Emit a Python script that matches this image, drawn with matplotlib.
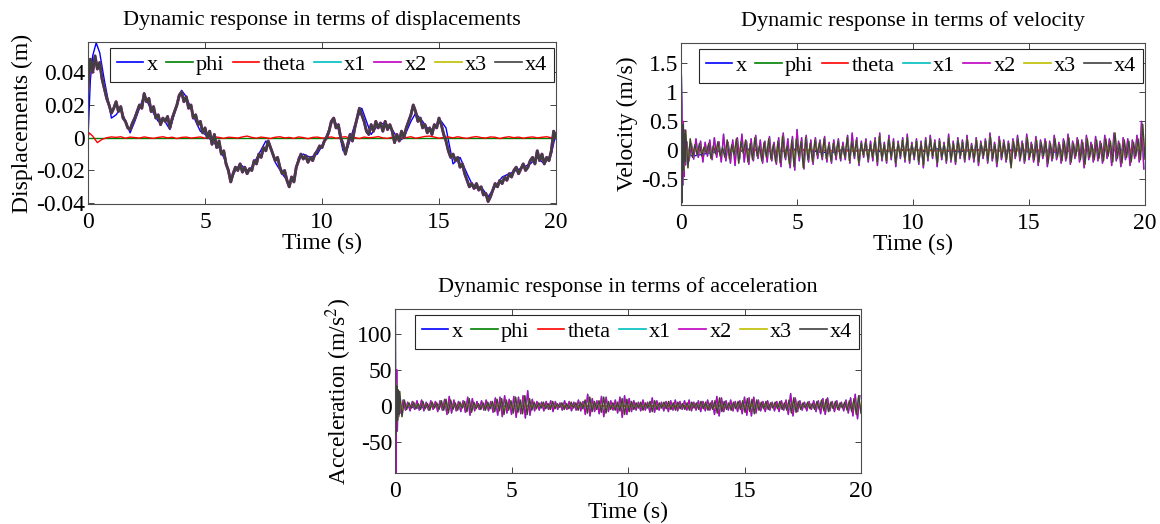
import numpy as np
import matplotlib
matplotlib.use('Agg')
import matplotlib.pyplot as plt

plt.rcParams['font.family'] = ['Liberation Serif', 'DejaVu Serif']
plt.rcParams['mathtext.fontset'] = 'stix'

labels = ['x', 'phi', 'theta', 'x1', 'x2', 'x3', 'x4']
colors = ['#0000ff', '#008000', '#ff0000', '#00bfbf', '#bf00bf', '#bfbf00', '#404040']
xticks = [0, 5, 10, 15, 20]

# ---------------- displacement (m) ----------------
disp_x_t = [0, 0.1, 0.2, 0.35, 0.5, 0.7, 0.9, 1.0, 1.2, 1.4,
            1.6, 1.8, 2.0, 2.2, 2.4, 2.6, 2.8, 3.0, 3.2, 3.5,
            3.7, 4.0, 4.2, 4.4, 4.6, 4.8, 5.0, 5.3, 5.6, 5.9,
            6.1, 6.3, 6.5, 6.8, 7.0, 7.3, 7.6, 7.8, 8.0, 8.3,
            8.6, 8.8, 9.0, 9.2, 9.5, 9.8, 10.0, 10.3, 10.5, 10.7,
            10.9, 11.1, 11.4, 11.7, 11.9, 12.1, 12.4, 12.7, 13.0, 13.3,
            13.5, 13.8, 14.0, 14.3, 14.6, 14.9, 15.1, 15.3, 15.6, 15.9,
            16.2, 16.5, 16.8, 17.1, 17.4, 17.7, 18.0, 18.3, 18.6, 18.9,
            19.2, 19.5, 19.8, 20.0]
disp_x = [0.0, 0.035, 0.050, 0.058, 0.052, 0.035, 0.020, 0.012, 0.014, 0.018,
          0.010, 0.003, 0.010, 0.018, 0.026, 0.020, 0.015, 0.010, 0.012, 0.005,
          0.015, 0.029, 0.025, 0.018, 0.010, 0.004, 0.002, -0.002, -0.006, -0.015,
          -0.026, -0.020, -0.016, -0.020, -0.018, -0.010, -0.002, -0.006, -0.015, -0.022,
          -0.028, -0.025, -0.012, -0.010, -0.012, -0.010, -0.005, 0.005, 0.012, 0.005,
          -0.008, -0.006, 0.008, 0.018, 0.010, 0.002, 0.008, 0.009, 0.005, -0.002,
          0.000, 0.010, 0.015, 0.010, 0.004, 0.008, 0.010, 0.006, -0.016, -0.012,
          -0.022, -0.031, -0.030, -0.036, -0.030, -0.024, -0.022, -0.020, -0.018, -0.016,
          -0.012, -0.016, -0.010, 0.003]

# x1..x4 sit on top of each other (0 .. 20 s, 0.1 s apart)
disp_x4 = [0.030, 0.048, 0.040, 0.050, 0.042, 0.046, 0.036, 0.030, 0.024, 0.020,
           0.015, 0.018, 0.022, 0.016, 0.019, 0.012, 0.010, 0.006, 0.005, 0.009,
           0.012, 0.016, 0.020, 0.018, 0.027, 0.022, 0.024, 0.016, 0.019, 0.012,
           0.014, 0.008, 0.012, 0.010, 0.013, 0.006, 0.012, 0.016, 0.020, 0.026,
           0.028, 0.022, 0.025, 0.018, 0.020, 0.012, 0.014, 0.008, 0.010, 0.003,
           0.006, 0.000, 0.004, -0.004, 0.002, -0.006, -0.002, -0.010, -0.008, -0.016,
           -0.020, -0.027, -0.022, -0.018, -0.020, -0.016, -0.021, -0.018, -0.022, -0.019,
           -0.020, -0.014, -0.016, -0.010, -0.012, -0.006, -0.008, -0.002, -0.006, -0.010,
           -0.014, -0.012, -0.018, -0.022, -0.020, -0.026, -0.030, -0.024, -0.027, -0.018,
           -0.014, -0.010, -0.013, -0.011, -0.015, -0.012, -0.014, -0.010, -0.008, -0.005,
           -0.006, -0.002, 0.000, 0.004, 0.010, 0.012, 0.006, 0.008, 0.000, -0.004,
           -0.010, -0.004, 0.002, -0.002, 0.006, 0.012, 0.018, 0.014, 0.010, 0.004,
           0.002, 0.008, 0.004, 0.010, 0.006, 0.009, 0.004, 0.010, 0.005, 0.008,
           0.004, -0.003, 0.002, -0.002, 0.004, 0.000, 0.006, 0.010, 0.014, 0.020,
           0.016, 0.010, 0.012, 0.006, 0.008, 0.003, 0.006, 0.002, 0.008, 0.006,
           0.012, 0.008, 0.002, -0.002, -0.008, -0.012, -0.010, -0.014, -0.012, -0.018,
           -0.016, -0.022, -0.026, -0.030, -0.028, -0.031, -0.028, -0.032, -0.030, -0.035,
           -0.034, -0.039, -0.036, -0.032, -0.028, -0.030, -0.026, -0.028, -0.024, -0.026,
           -0.022, -0.024, -0.020, -0.018, -0.022, -0.019, -0.016, -0.020, -0.018, -0.014,
           -0.012, -0.016, -0.008, -0.014, -0.010, -0.016, -0.012, -0.014, -0.008, 0.004,
           0.000]

disp_theta_head_t = [0, 0.05, 0.2, 0.4, 0.6]
disp_theta_head = [0.0, 0.003, 0.001, -0.003, -0.001]
disp_theta = [0.0, 0.0005, 0.0002, 0.0006, -0.0003, 0.0004, 0.0001, -0.0002, 0.0005, 0.0,
              -0.0004, 0.0002, 0.0006, -0.0001, 0.0003, -0.0005, 0.0002, 0.0004, -0.0002, 0.0001,
              0.0005, -0.0003, 0.0, 0.0006, 0.0002, -0.0004, 0.0003, 0.0001, -0.0002, 0.0005,
              0.0010, 0.0002, -0.0003, 0.0004, 0.0, -0.0005, 0.0003, 0.0006, -0.0001, 0.0002,
              -0.0004, 0.0005, 0.0001, -0.0006, 0.0002, 0.0004, -0.0002, 0.0, 0.0005, -0.0003,
              0.0003, 0.0006, -0.0002, 0.0001, -0.0005, 0.0004, 0.0, 0.0002, 0.0007, -0.0001,
              -0.0004, 0.0003, 0.0005, -0.0002, 0.0001, 0.0006, -0.0003, 0.0002, 0.0008, 0.0010,
              0.0004, -0.0003, 0.0002, 0.0005, -0.0001, 0.0006, 0.0, -0.0004, 0.0003, 0.0007,
              0.0001, -0.0002, 0.0005, 0.0003, -0.0005, 0.0002, 0.0006, 0.0, 0.0004, -0.0003,
              0.0002, 0.0005, -0.0001, 0.0003, 0.0006, 0.0, 0.0004]
disp_phi = [0.0, 0.0]

# ---------------- velocity (m/s) ----------------
vel_x = [0.0, -0.10, -0.06, -0.03, 0.02, -0.02, 0.03, 0.0, -0.02, -0.01,
         0.03, 0.0, -0.03, -0.04, 0.02, -0.01, 0.01, -0.02, -0.01, 0.01,
         0.02, -0.02, 0.03, -0.01, -0.02, 0.0, 0.02, 0.0, -0.01, 0.03,
         -0.03, -0.02, -0.03, -0.02, 0.01, -0.01, 0.01, 0.0, 0.01, 0.0, 0.04]
vel_theta = [0.0, 0.01, -0.01, 0.005, -0.005, 0.01, 0.0, -0.01, 0.005, 0.0,
             0.01, -0.005, 0.0, 0.01, -0.01, 0.005, 0.0, -0.005, 0.01, 0.0, 0.005]

vel_x4_head_t = [0, 0.02, 0.05, 0.08, 0.11, 0.14, 0.17]
vel_x4_head = [0.0, 0.5, -0.9, 0.45, -0.35, 0.3, -0.2]
vel_x4 = [0.35, -0.30, 0.20, -0.12, 0.10, -0.08, 0.12, -0.10, 0.06, -0.05, 0.12, -0.14, 0.08, -0.06, 0.15, -0.10, 0.05, -0.12, 0.18, -0.15,
          0.10, -0.08, 0.20, -0.22, 0.15, -0.05, 0.18, -0.20, 0.12, -0.16, 0.22, -0.10, 0.08, -0.18, 0.14, -0.12, 0.20, -0.15, 0.10, -0.20,
          0.16, -0.22, 0.25, -0.12, 0.08, -0.24, 0.18, -0.28, 0.20, -0.10, 0.15, -0.30, 0.22, -0.16, 0.12, -0.20, 0.18, -0.08, 0.14, -0.12,
          0.20, -0.15, 0.10, -0.18, 0.12, -0.10, 0.16, -0.14, 0.08, -0.12, 0.22, -0.18, 0.15, -0.10, 0.18, -0.22, 0.12, -0.08, 0.15, -0.16,
          0.10, -0.12, 0.18, -0.20, 0.25, -0.14, 0.10, -0.18, 0.20, -0.12, 0.15, -0.22, 0.12, -0.10, 0.18, -0.15, 0.22, -0.18, 0.10, -0.12,
          0.16, -0.20, 0.12, -0.25, 0.18, -0.14, 0.20, -0.10, 0.14, -0.22, 0.16, -0.12, 0.10, -0.18, 0.22, -0.16, 0.12, -0.20, 0.18, -0.10,
          0.14, -0.16, 0.20, -0.12, 0.08, -0.15, 0.18, -0.20, 0.12, -0.10, 0.16, -0.18, 0.24, -0.14, 0.10, -0.22, 0.18, -0.12, 0.14, -0.16,
          0.12, -0.30, 0.16, -0.10, 0.20, -0.14, 0.12, -0.18, 0.22, -0.12, 0.10, -0.16, 0.18, -0.20, 0.14, -0.10, 0.16, -0.22, 0.12, -0.14,
          0.20, -0.12, 0.10, -0.18, 0.16, -0.14, 0.22, -0.20, 0.12, -0.10, 0.18, -0.16, 0.14, -0.24, 0.20, -0.12, 0.10, -0.16, 0.18, -0.14,
          0.12, -0.18, 0.20, -0.10, 0.16, -0.20, 0.30, -0.14, 0.12, -0.22, 0.18, -0.12, 0.16, -0.20, 0.14, -0.10, 0.20, -0.16, 0.45, -0.15]

vel_x2_head_t = [0, 0.015, 0.04, 0.07, 0.1, 0.13, 0.16, 0.2]
vel_x2_head = [0.0, 1.3, 0.8, -0.6, 0.5, -0.45, 0.35, -0.25]
vel_x2 = [0.15, -0.18, 0.12, -0.15, 0.20, -0.12, 0.16, -0.20, 0.14, -0.10, 0.18, -0.16, 0.22, -0.12, 0.15, -0.20, 0.28, -0.18, 0.14, -0.22,
          0.18, -0.26, 0.22, -0.15, 0.28, -0.20, 0.16, -0.24, 0.20, -0.18, 0.26, -0.14, 0.18, -0.22, 0.16, -0.20, 0.24, -0.18, 0.14, -0.24,
          0.22, -0.28, 0.30, -0.16, 0.20, -0.30, 0.24, -0.34, 0.36, -0.18, 0.22, -0.32, 0.26, -0.20, 0.18, -0.24, 0.22, -0.14, 0.18, -0.16,
          0.24, -0.20, 0.14, -0.22, 0.18, -0.16, 0.20, -0.18, 0.14, -0.16, 0.26, -0.22, 0.30, -0.14, 0.22, -0.26, 0.16, -0.12, 0.20, -0.20,
          0.16, -0.18, 0.22, -0.26, 0.30, -0.18, 0.14, -0.22, 0.26, -0.16, 0.20, -0.28, 0.16, -0.14, 0.22, -0.20, 0.28, -0.22, 0.14, -0.16,
          0.20, -0.24, 0.16, -0.30, 0.22, -0.18, 0.26, -0.14, 0.18, -0.28, 0.20, -0.16, 0.14, -0.22, 0.28, -0.20, 0.16, -0.24, 0.22, -0.14,
          0.18, -0.20, 0.26, -0.16, 0.12, -0.20, 0.22, -0.26, 0.16, -0.14, 0.20, -0.22, 0.30, -0.18, 0.14, -0.28, 0.24, -0.16, 0.18, -0.20,
          0.16, -0.24, 0.20, -0.14, 0.26, -0.18, 0.16, -0.22, 0.28, -0.16, 0.14, -0.20, 0.24, -0.26, 0.18, -0.14, 0.20, -0.28, 0.16, -0.18,
          0.26, -0.16, 0.14, -0.22, 0.20, -0.18, 0.28, -0.24, 0.16, -0.14, 0.22, -0.20, 0.18, -0.30, 0.26, -0.16, 0.14, -0.20, 0.24, -0.18,
          0.16, -0.22, 0.26, -0.14, 0.20, -0.26, 0.30, -0.18, 0.16, -0.28, 0.22, -0.16, 0.20, -0.26, 0.18, -0.14, 0.26, -0.20, 0.50, -0.32]

# ---------------- acceleration (m/s^2) ----------------
acc_x = [0.0, -3.0, 2.0, -1.0, 1.0, -0.5, 1.0, -1.0, 0.5, 0.0,
         1.0, -1.0, 0.5, -0.5, 1.0, 0.0, -1.0, 0.5, 1.0, -0.5, 0.0]
acc_x4_head_t = [0, 0.02, 0.05, 0.08, 0.11, 0.14, 0.17]
acc_x4_head = [0, 35, -38, 28, -20, 22, -12]
acc_x4 = [20, -15, 8, -5, 4, -3, 5, -4, 3, -5, 6, -4, 3, -6, 5, -3, 4, -5, 7, -6,
          9, -10, 8, -5, 4, -6, 5, -3, 6, -8, 10, -9, 5, -4, 3, -5, 4, -6, 5, -4,
          6, -8, 9, -7, 10, -12, 8, -6, 7, -10, 12, -9, 8, -11, 14, -12, 10, -6, 5, -4,
          4, -3, 5, -4, 3, -5, 6, -4, 3, -2, 4, -5, 3, -4, 5, -3, 4, -6, 5, -4,
          8, -10, 12, -8, 6, -5, 7, -9, 12, -10, 6, -5, 4, -6, 5, -7, 10, -12, 9, -8,
          6, -5, 4, -3, 5, -6, 4, -3, 6, -8, 7, -5, 4, -3, 5, -4, 6, -5, 4, -6,
          5, -4, 3, -5, 4, -6, 5, -3, 4, -5, 6, -4, 5, -6, 4, -5, 7, -10, 11, -8,
          6, -5, 4, -6, 5, -4, 6, -5, 7, -9, 10, -8, 9, -11, 8, -6, 5, -4, 6, -5,
          4, -3, 5, -4, 6, -5, 4, -6, 8, -10, 11, -9, 6, -5, 4, -3, 5, -4, 3, -5,
          6, -5, 8, -7, 9, -8, 5, -4, 6, -5, 4, -3, 5, -6, 7, -8, 10, -12, 14, -10]
acc_x2_head_t = [0, 0.015, 0.04, 0.07, 0.1, 0.13, 0.16, 0.2]
acc_x2_head = [0, 135, -95, 50, -35, 20, -15, 12]
acc_x2 = [-10, 8, -6, 5, -7, 6, -5, 7, -6, 8, -7, 5, -6, 7, -5, 6, -8, 7, -6, 9,
          -12, 13, -10, 8, -7, 6, -8, 7, -9, 12, -13, 10, -7, 6, -5, 7, -6, 8, -7, 6,
          -9, 11, -13, 12, -15, 14, -10, 9, -12, 13, -16, 12, -11, 14, -17, 21, -13, 9, -7, 6,
          -6, 5, -7, 6, -5, 7, -8, 6, -5, 4, -6, 7, -5, 6, -7, 5, -6, 8, -7, 6,
          -12, 16, -14, 10, -8, 7, -11, 13, -15, 12, -8, 7, -6, 8, -10, 12, -16, 14, -12, 10,
          -8, 7, -6, 5, -7, 8, -6, 5, -9, 11, -9, 7, -6, 5, -7, 6, -8, 7, -6, 8,
          -7, 6, -5, 7, -6, 8, -7, 5, -6, 7, -8, 6, -7, 8, -6, 7, -12, 13, -14, 11,
          -8, 7, -6, 8, -7, 6, -8, 7, -11, 12, -13, 11, -14, 12, -10, 8, -7, 6, -8, 7,
          -6, 5, -7, 6, -8, 7, -6, 8, -12, 17, -14, 11, -8, 7, -6, 5, -7, 6, -5, 7,
          -8, 7, -11, 10, -12, 11, -7, 6, -8, 7, -6, 5, -7, 8, -10, 11, -14, 16, -18, 14]
acc_theta = [0.0, 0.3, -0.3, 0.2, -0.2, 0.3, 0.0, -0.3, 0.2, 0.0, 0.3]


def join(head_t, head_v, body, t0, t1):
    t = np.concatenate([head_t, np.linspace(t0, t1, len(body))])
    return t, np.concatenate([head_v, body])


def span(vals):
    return np.linspace(0, 20, len(vals))


def draw(ax, series, widths):
    for (t, v), c, lab, w in zip(series, colors, labels, widths):
        ax.plot(t, v, color=c, lw=w, label=lab)


def style(ax, title, ylabel, ylim, yticks, yticklabels):
    ax.set_xlim(0, 20)
    ax.set_ylim(*ylim)
    ax.set_xticks(xticks)
    ax.set_yticks(yticks)
    ax.set_yticklabels(yticklabels)
    ax.tick_params(direction='in', top=True, right=True, length=4, width=0.6,
                   labelsize=17, color='#262626')
    ax.tick_params(axis='x', pad=6)
    ax.tick_params(axis='y', pad=2)
    for s in ax.spines.values():
        s.set_color('#4d4d4d')
        s.set_linewidth(0.8)
    ax.set_title(title, fontsize=16, pad=12.5)
    ax.set_xlabel('Time (s)', fontsize=17, labelpad=0)
    ax.set_ylabel(ylabel, fontsize=17, labelpad=2)
    leg = ax.legend(loc='upper right', bbox_to_anchor=(0.996, 0.965), ncol=7,
                    fontsize=16, handlelength=1.2, handletextpad=0.15,
                    columnspacing=0.37, borderpad=0.3, borderaxespad=0,
                    fancybox=False, framealpha=1)
    leg.get_frame().set_edgecolor('#262626')
    leg.get_frame().set_linewidth(0.8)
    for ln in leg.get_lines():
        ln.set_linewidth(1.2)


fig = plt.figure(figsize=(11.6, 5.24), dpi=100)
ax1 = fig.add_axes([88 / 1160, 1 - 204 / 524, 468 / 1160, 162 / 524])
ax2 = fig.add_axes([681 / 1160, 1 - 205 / 524, 464 / 1160, 162 / 524])
ax3 = fig.add_axes([395 / 1160, 1 - 473 / 524, 466 / 1160, 164 / 524])

# displacement
th_t, th_v = join(disp_theta_head_t, disp_theta_head, disp_theta, 0.8, 20)
d_series = [(disp_x_t, disp_x), (span(disp_phi), disp_phi), (th_t, th_v),
            (span(disp_x4), disp_x4), (span(disp_x4), disp_x4),
            (span(disp_x4), disp_x4), (span(disp_x4), disp_x4)]
draw(ax1, d_series, [1.0, 1.0, 1.0, 1.0, 2.1, 1.0, 1.9])
style(ax1, 'Dynamic response in terms of displacements', 'Displacements (m)',
      (-0.0405, 0.0585), [-0.04, -0.02, 0, 0.02, 0.04],
      ['-0.04', '-0.02', '0', '0.02', '0.04'])

# velocity
v4_t, v4_v = join(vel_x4_head_t, vel_x4_head, vel_x4, 0.2, 20)
v2_t, v2_v = join(vel_x2_head_t, vel_x2_head, vel_x2, 0.25, 19.95)
v_series = [(span(vel_x), vel_x), (span(disp_phi), disp_phi), (span(vel_theta), vel_theta),
            (v2_t, v2_v), (v2_t, v2_v), (v4_t, v4_v), (v4_t, v4_v)]
draw(ax2, v_series, [1.0] * 7)
style(ax2, 'Dynamic response in terms of velocity', 'Velocity (m/s)',
      (-0.94, 1.85), [-0.5, 0, 0.5, 1, 1.5], ['-0.5', '0', '0.5', '1', '1.5'])

# acceleration
a4_t, a4_v = join(acc_x4_head_t, acc_x4_head, acc_x4, 0.2, 20)
a2_t, a2_v = join(acc_x2_head_t, acc_x2_head, acc_x2, 0.25, 19.95)
a_series = [(span(acc_x), acc_x), (span(disp_phi), disp_phi), (span(acc_theta), acc_theta),
            (a2_t, a2_v), (a2_t, a2_v), (a4_t, a4_v), (a4_t, a4_v)]
draw(ax3, a_series, [1.0] * 7)
style(ax3, 'Dynamic response in terms of acceleration', 'Acceleration (m/s$^2$)',
      (-93, 134), [-50, 0, 50, 100], ['-50', '0', '50', '100'])

fig.savefig('out.png', dpi=100)
